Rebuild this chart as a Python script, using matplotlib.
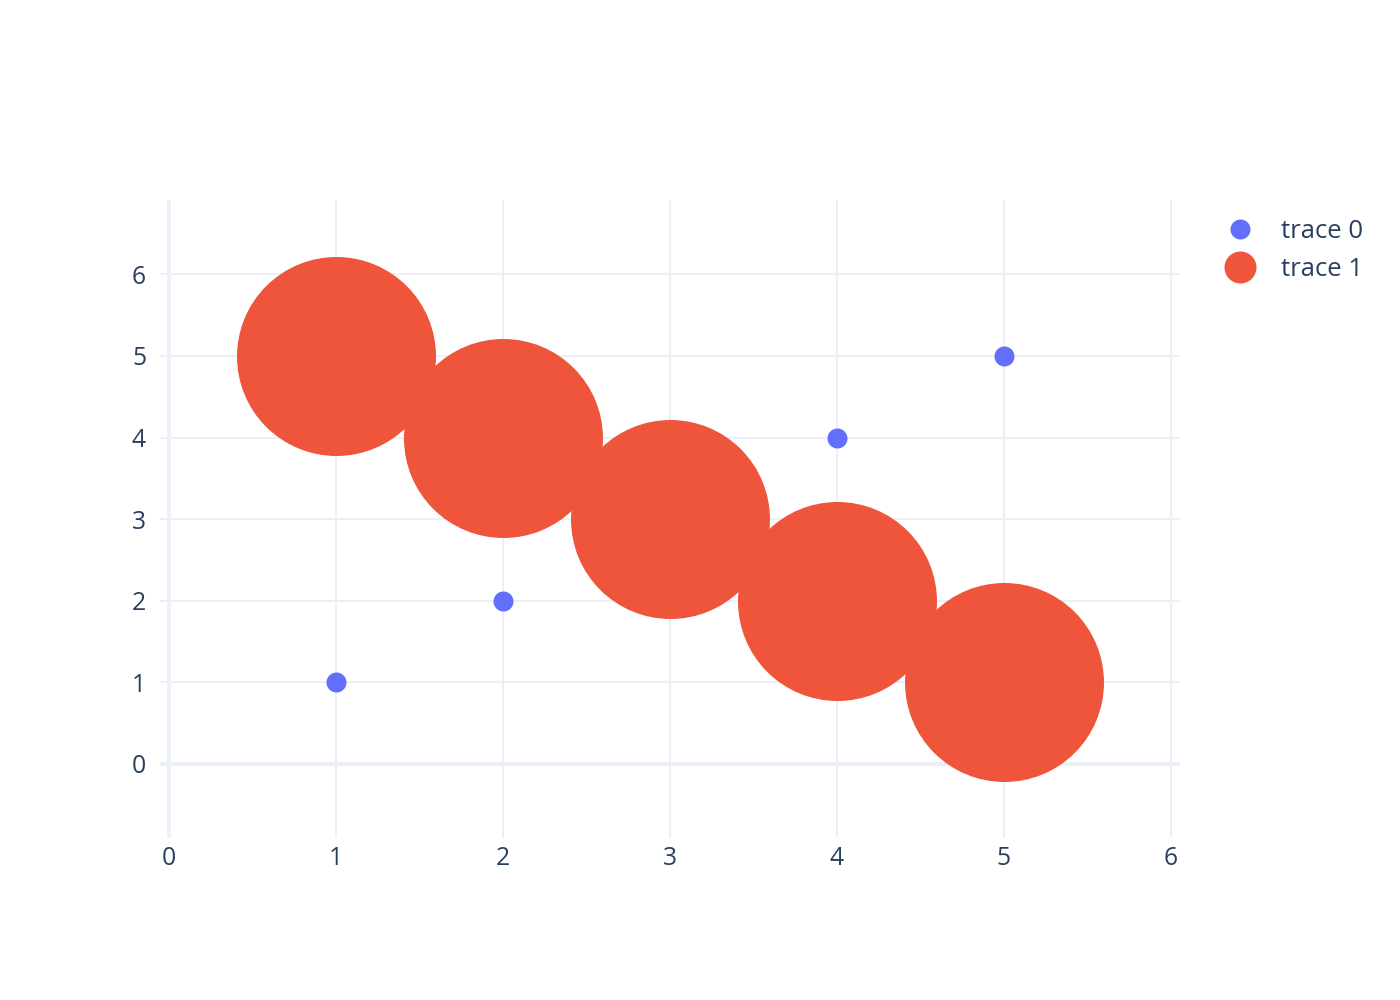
import matplotlib
matplotlib.use("Agg")
import matplotlib.pyplot as plt
from matplotlib.lines import Line2D

# Data
trace0_x = [1, 2, 3, 4, 5]
trace0_y = [1, 2, 3, 4, 5]
trace1_x = [1, 2, 3, 4, 5]
trace1_y = [5, 4, 3, 2, 1]
names = ["trace 0", "trace 1"]
x_ticks = [0, 1, 2, 3, 4, 5, 6]
y_ticks = [0, 1, 2, 3, 4, 5, 6]

plt.rcParams['font.family'] = ['Open Sans', 'DejaVu Sans']
TXT = '#2a3f5f'
GRID = '#EBF0F8'
C0 = '#636efa'
C1 = '#EF553B'

fig = plt.figure(figsize=(14, 10), dpi=100)
ax = fig.add_axes([160/1400, 1-838/1000, 1020/1400, 638/1000])
ax.set_xlim(-0.054, 6.054)
ax.set_ylim(-0.907, 6.91)

for s in ax.spines.values():
    s.set_visible(False)
ax.set_xticks(x_ticks)
ax.set_yticks(y_ticks)
ax.tick_params(length=0, labelsize=17.8, labelcolor=TXT, pad=10)
ax.tick_params(axis='x', pad=6)
ax.grid(True, color=GRID, linewidth=1.44, zorder=0)
ax.axhline(0, color=GRID, linewidth=2.9, zorder=0.5)
ax.axvline(0, color=GRID, linewidth=2.9, zorder=0.5)
ax.set_axisbelow(True)

big = (199 * 0.72) ** 2
small = (20 * 0.72) ** 2
ax.scatter(trace0_x, trace0_y, s=small, color=C0, linewidths=0, zorder=3)
ax.scatter(trace1_x, trace1_y, s=big, color=C1, linewidths=0, zorder=4)

handles = [
    Line2D([], [], linestyle='none', marker='o', markersize=20*0.72, color=C0, markeredgewidth=0),
    Line2D([], [], linestyle='none', marker='o', markersize=32*0.72, color=C1, markeredgewidth=0),
]
leg = fig.legend(handles, names, loc='upper left', bbox_to_anchor=(1208/1400, 1-206/1000),
                 frameon=False, fontsize=18.5, labelcolor=TXT, handletextpad=0.855,
                 labelspacing=0.5, borderpad=0, handlelength=1.5)

fig.savefig('out.png', dpi=100)
